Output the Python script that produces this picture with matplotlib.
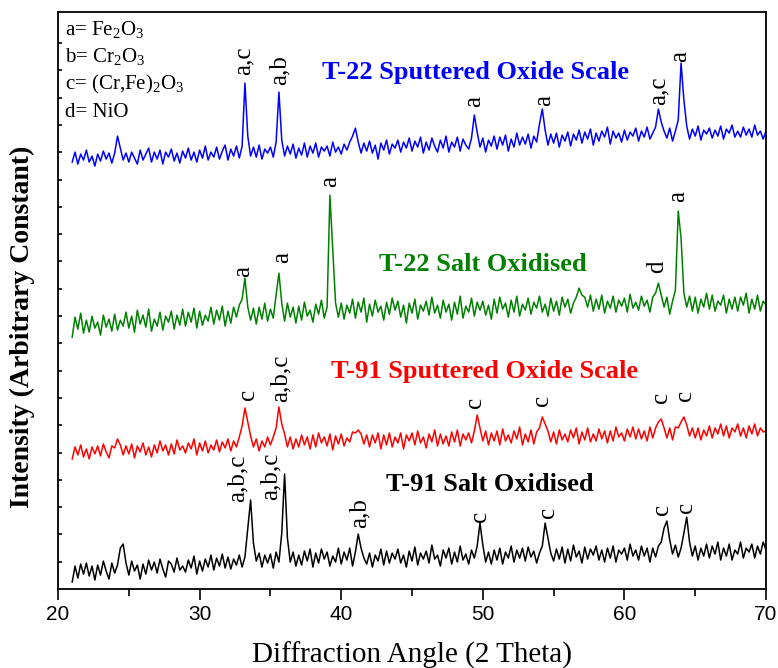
import numpy as np
import matplotlib
matplotlib.use('Agg')
import matplotlib.pyplot as plt
from matplotlib.ticker import MultipleLocator

plt.rcParams['font.family'] = ['Liberation Serif', 'DejaVu Serif']
plt.rcParams['mathtext.fontset'] = 'custom'
plt.rcParams['mathtext.rm'] = 'Liberation Serif'
plt.rcParams['mathtext.it'] = 'Liberation Serif:italic'

# scan: 21 to 70 deg, step 0.2 deg
scan_start, scan_stop, scan_step = 21.0, 70.0, 0.2
two_theta = np.round(np.arange(scan_start, scan_stop + scan_step / 2, scan_step), 1)

# intensity above each trace's base
# (5 points per degree, last value is 70.0)
t22_sputtered = [
    0, 10, -2, 8, 2,   12, 0, 6, -4, 8,   1, 11, 3, 9, -1,   9, 26, 14, 2, 9,
    0, 10, 4, -2, 12,   2, 8, 14, 0, 10,   3, 12, -2, 10, 5,   13, 1, 9, -1, 11,
    4, 14, 2, 10, 0,   12, 4, 16, 2, 10,   5, 15, 3, 11, 17,   2, 13, 6, 16, 4,
    16, 79, 26, 6, 15,   5, 17, 3, 13, 9,   15, 5, 20, 70, 22,   6, 16, 8, 18, 4,
    14, 7, 19, 5, 16,   9, 19, 5, 15, 11,   16, 6, 20, 10, 15,   8, 18, 12, 20, 26,
    34, 20, 9, 19, 11,   21, 9, 17, 3, 19,   12, 22, 8, 18, 14,   22, 10, 20, 14, 24,
    11, 21, 15, 25, 9,   20, 12, 24, 16, 10,   22, 14, 26, 10, 20,   15, 25, 11, 23, 17,
    13, 24, 47, 30, 15,   24, 10, 22, 16, 26,   13, 25, 17, 27, 11,   23, 15, 29, 17, 25,
    18, 28, 14, 26, 20,   38, 53, 32, 17, 28,   19, 29, 15, 27, 21,   30, 16, 28, 22, 32,
    19, 30, 23, 33, 17,   29, 21, 31, 25, 35,   18, 31, 24, 29, 20,   32, 22, 30, 26, 34,
    21, 31, 25, 35, 23,   29, 35, 53, 40, 31,   24, 34, 21, 31, 42,   99, 62, 36, 23, 33,
    26, 36, 22, 32, 28,   34, 24, 32, 26, 36,   23, 33, 29, 37, 25,   31, 25, 35, 27, 33,
    25, 37, 27, 31, 23,
    31,
]
t22_salt = [
    -2, 18, 6, 22, 2,   15, 3, 19, 7, 13,   0, 20, 8, 16, 4,   21, 5, 15, 9, 23,
    7, 19, 3, 25, 11,   20, 8, 26, 4, 16,   9, 23, 5, 19, 13,   24, 6, 20, 10, 26,
    9, 23, 13, 27, 7,   24, 10, 20, 14, 28,   11, 25, 15, 29, 9,   24, 12, 28, 18, 30,
    36, 57, 28, 15, 27,   11, 28, 16, 32, 14,   26, 17, 40, 62, 32,   14, 32, 18, 28, 12,
    29, 15, 33, 19, 25,   13, 31, 21, 35, 17,   28, 140, 85, 32, 18,   32, 16, 30, 22, 36,
    17, 33, 23, 37, 13,   31, 19, 35, 23, 29,   15, 33, 21, 37, 25,   34, 18, 30, 12, 32,
    22, 36, 16, 30, 24,   34, 20, 38, 22, 30,   17, 35, 23, 31, 15,   33, 21, 39, 17, 29,
    23, 37, 19, 33, 25,   34, 20, 30, 16, 36,   22, 38, 26, 32, 18,   35, 23, 39, 19, 31,
    25, 37, 21, 33, 27,   39, 23, 31, 19, 37,   24, 34, 20, 38, 28,   36, 22, 32, 38, 47,
    40, 38, 28, 40, 24,   36, 26, 40, 22, 34,   27, 39, 23, 35, 29,   37, 23, 41, 27, 33,
    25, 39, 29, 35, 23,   38, 42, 52, 40, 28,   38, 21, 34, 45, 124,   97, 42, 28, 39, 24,
    38, 22, 36, 28, 42,   26, 40, 24, 34, 30,   40, 22, 36, 26, 38,   24, 38, 30, 42, 22,
    36, 26, 40, 24, 34,
    30,
]
t91_sputtered = [
    -1, 11, 3, 13, 1,   9, -1, 11, 4, 12,   2, 14, 6, 0, 12,   10, 19, 13, 3, 12,
    4, 14, 0, 12, 6,   15, 3, 11, 1, 13,   5, 17, 7, 13, 3,   14, 4, 18, 8, 12,
    5, 15, 9, 19, 3,   15, 7, 17, 5, 13,   8, 18, 6, 16, 10,   19, 7, 17, 11, 21,
    32, 50, 36, 22, 11,   19, 7, 17, 11, 21,   13, 21, 30, 51, 34,   24, 11, 21, 9, 19,
    11, 23, 13, 21, 9,   23, 11, 25, 15, 21,   12, 24, 8, 22, 14,   24, 12, 20, 16, 26,
    25, 28, 24, 14, 23,   11, 23, 15, 25, 9,   23, 13, 25, 11, 21,   15, 25, 9, 23, 17,
    25, 13, 27, 15, 21,   10, 24, 16, 28, 12,   24, 14, 22, 12, 26,   16, 28, 12, 24, 18,
    25, 15, 27, 43, 30,   17, 27, 13, 25, 17,   27, 13, 29, 17, 23,   15, 27, 19, 31, 13,
    24, 16, 28, 14, 26,   30, 41, 34, 27, 16,   26, 14, 28, 18, 24,   16, 28, 20, 30, 14,
    26, 18, 30, 16, 24,   17, 29, 19, 27, 15,   27, 17, 31, 21, 25,   17, 29, 21, 31, 19,
    29, 19, 27, 17, 31,   20, 30, 36, 39, 30,   20, 30, 18, 31, 30,   36, 41, 33, 22, 30,
    20, 30, 18, 28, 22,   32, 20, 30, 24, 34,   22, 32, 20, 30, 26,   34, 22, 30, 20, 32,
    24, 34, 22, 30, 26,
    27,
]
t91_salt = [
    -4, 12, 0, 14, 4,   15, 2, 12, -2, 13,   3, 17, 7, -1, 15,   5, 13, 30, 34, 15,
    3, 17, 7, 13, -1,   14, 4, 18, 8, 16,   5, 19, 9, 1, 17,   14, 6, 20, 8, 12,
    6, 18, 10, 22, 4,   17, 7, 19, 11, 23,   8, 20, 12, 24, 10,   21, 9, 19, 13, 23,
    11, 21, 50, 78, 35,   17, 25, 11, 23, 15,   24, 10, 26, 16, 45,   104, 40, 16, 26, 12,
    23, 13, 27, 17, 29,   11, 25, 15, 29, 19,   26, 12, 22, 16, 30,   14, 26, 18, 30, 12,
    26, 44, 30, 20, 14,   25, 11, 23, 17, 29,   13, 27, 15, 25, 19,   29, 15, 23, 11, 27,
    17, 31, 13, 25, 19,   27, 15, 33, 19, 23,   12, 28, 20, 30, 14,   26, 16, 32, 18, 24,
    14, 28, 20, 32, 55,   33, 16, 26, 14, 28,   18, 30, 14, 26, 20,   32, 16, 28, 20, 30,
    17, 31, 21, 27, 15,   25, 32, 55, 40, 25,   17, 29, 19, 31, 15,   29, 17, 33, 21, 27,
    15, 31, 19, 29, 23,   32, 18, 28, 16, 30,   20, 32, 16, 28, 24,   30, 18, 34, 22, 28,
    18, 32, 22, 30, 16,   30, 21, 32, 36, 50,   57, 38, 24, 33, 21,   30, 45, 61, 36, 22,
    32, 18, 30, 22, 34,   20, 32, 24, 36, 18,   30, 22, 34, 18, 28,   24, 36, 20, 30, 26,
    34, 20, 32, 24, 36,
    28,
]

sample_names = ['T-22 Sputtered Oxide Scale', 'T-22 Salt Oxidised',
                'T-91 Sputtered Oxide Scale', 'T-91 Salt Oxidised']
sample_counts = [t22_sputtered, t22_salt, t91_sputtered, t91_salt]
sample_colors = ['#0000ff', '#008000', '#ff0000', '#000000']
offsets = [15.64, 9.30, 4.80, 0.40]
count_scale = 1 / 27.3
name_pos = [(49.5, 18.94), (50.0, 11.87), (50.1, 7.95), (50.5, 3.81)]

# peak labels: (2theta, y, text)
peak_labels = [
    [(33.1, 18.83, 'a,c'), (35.68, 18.46, 'a,b'), (49.4, 17.66, 'a'),
     (54.3, 17.69, 'a'), (62.4, 17.73, 'a,c'), (63.9, 19.30, 'a')],
    [(33.1, 11.43, 'a'), (35.8, 11.94, 'a'), (39.2, 14.73, 'a'),
     (62.3, 11.58, 'd'), (63.8, 14.18, 'a')],
    [(33.4, 6.92, 'c'), (35.7, 6.85, 'a,b,c'), (49.45, 6.63, 'c'),
     (54.2, 6.70, 'c'), (62.6, 6.81, 'c'), (64.3, 6.89, 'c')],
    [(32.7, 3.19, 'a,b,c'), (35.0, 3.26, 'a,b,c'), (41.27, 2.23, 'a,b'),
     (49.8, 2.45, 'c'), (54.6, 2.60, 'c'), (62.66, 2.71, 'c'), (64.35, 2.78, 'c')],
]

phase_key = [r'a= Fe$_2$O$_3$', r'b= Cr$_2$O$_3$', r'c= (Cr,Fe)$_2$O$_3$', 'd= NiO']

fig = plt.figure(figsize=(7.78, 6.68), dpi=100)
ax = fig.add_axes([0.0746, 0.1183, 0.9100, 0.8638])

for counts, col, off, name, npos, labs in zip(sample_counts, sample_colors, offsets,
                                               sample_names, name_pos, peak_labels):
    assert len(counts) == len(two_theta), (name, len(counts))
    ax.plot(two_theta, off + np.array(counts) * count_scale, color=col, lw=1.1)
    ax.text(npos[0], npos[1], name, color=col, fontsize=19, fontweight='bold',
            ha='center', va='center')
    for px, py, t in labs:
        ax.text(px, py, t, rotation=90, ha='center', va='bottom', fontsize=18)

for i, t in enumerate(phase_key):
    ax.text(20.49, 20.29 - i * 1.0, t, fontsize=15, ha='left', va='baseline')

ax.set_xlim(20, 70)
ax.set_ylim(0, 21.14)
ax.xaxis.set_major_locator(MultipleLocator(10))
ax.xaxis.set_minor_locator(MultipleLocator(5))
ax.set_yticks(np.arange(1, 21))
ax.set_yticklabels([])
ax.tick_params(axis='x', which='major', direction='out', length=8, width=1.2,
               labelsize=15, labelfontfamily='Liberation Sans')
ax.tick_params(axis='x', which='minor', direction='out', length=5, width=1.2)
ax.tick_params(axis='y', direction='in', length=3, width=1.2)
for s in ax.spines.values():
    s.set_linewidth(1.3)

ax.set_xlabel('Diffraction Angle (2 Theta)', fontsize=21, va='center')
ax.xaxis.set_label_coords(0.5, (589 - 655) / 577)
ax.set_ylabel('Intensity (Arbitrary Constant)', fontsize=20, fontweight='bold', va='center')
ax.yaxis.set_label_coords((22 - 58) / 708, (589 - 327) / 577)

fig.savefig('out.png', dpi=100)
